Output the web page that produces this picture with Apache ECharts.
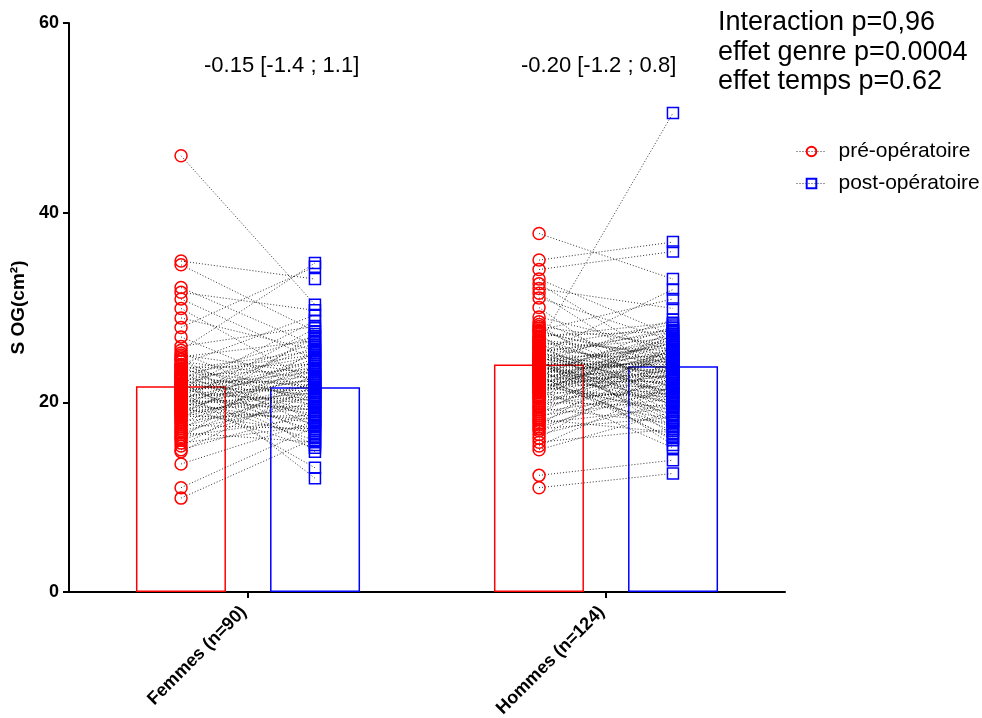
<!DOCTYPE html>
<html>
<head>
<meta charset="utf-8">
<title>S OG pré / post-opératoire</title>
<script src="https://cdn.jsdelivr.net/npm/echarts@6/dist/echarts.min.js"></script>
<style>
  html, body { margin: 0; padding: 0; background: #fff; }
  #chart { width: 982px; height: 718px; }
</style>
</head>
<body>
<div id="chart"></div>
<script>
// Groups on the x axis
const categories = ['Femmes (n=90)', 'Hommes (n=124)'];
const seriesNames = ['pré-opératoire', 'post-opératoire'];

// Group means (bar heights), cm²
const meanPre = [21.7, 24.0];
const meanPost = [21.6, 23.8];

// Paired individual measurements, same order in pre and post arrays
const femmesPre = [
  46.0, 34.9, 34.5, 32.1, 31.6, 30.9, 29.9, 28.9, 27.9, 26.9,
  25.9, 25.5, 25.2, 25.0, 24.8, 24.5, 24.3, 24.0, 23.9, 23.8,
  23.6, 23.4, 23.2, 23.1, 23.0, 22.9, 22.8, 22.7, 22.6, 22.5,
  22.4, 22.3, 22.1, 22.0, 21.9, 21.8, 21.7, 21.6, 21.5, 21.4,
  21.3, 21.2, 21.1, 21.0, 20.9, 20.8, 20.7, 20.6, 20.5, 20.4,
  20.3, 20.2, 20.1, 20.0, 19.9, 19.8, 19.7, 19.6, 19.5, 19.4,
  19.3, 19.2, 19.1, 19.0, 18.9, 18.8, 18.7, 18.5, 18.4, 18.2,
  18.0, 17.8, 17.6, 17.4, 17.2, 17.0, 16.8, 16.6, 16.4, 16.2,
  16.0, 15.7, 15.4, 15.0, 14.8, 13.5, 11.0, 9.9, 24.6, 23.5
];
const femmesPost = [
  30.3, 33.0, 27.5, 26.0, 29.7, 24.5, 22.0, 25.5, 34.3, 21.0,
  28.0, 34.7, 19.5, 23.0, 26.5, 18.0, 22.5, 29.2, 20.0, 17.5,
  24.0, 21.5, 16.5, 25.0, 20.5, 12.0, 23.5, 19.0, 27.0, 21.8,
  18.5, 24.8, 22.2, 15.5, 20.8, 26.2, 23.2, 17.0, 21.2, 28.6,
  19.8, 22.8, 13.1, 24.2, 20.2, 18.8, 25.8, 21.6, 16.0, 23.8,
  19.2, 22.4, 27.8, 20.6, 17.8, 24.6, 21.0, 15.2, 22.6, 19.6,
  26.8, 18.2, 23.6, 20.4, 16.8, 25.2, 21.4, 18.6, 22.0, 27.2,
  19.4, 23.4, 17.2, 21.2, 24.4, 20.0, 15.8, 22.2, 18.4, 25.6,
  20.8, 17.6, 23.0, 19.0, 21.8, 18.0, 17.4, 16.2, 14.8, 25.4
];
const hommesPre = [
  37.8, 35.0, 34.0, 33.0, 32.5, 32.0, 31.5, 31.0, 30.0, 29.0,
  28.5, 28.2, 28.0, 27.8, 27.6, 27.4, 27.2, 27.0, 26.8, 26.6,
  26.4, 26.2, 26.0, 25.9, 25.8, 25.6, 25.5, 25.4, 25.2, 25.1,
  25.0, 24.9, 24.8, 24.7, 24.6, 24.5, 24.4, 24.3, 24.2, 24.1,
  24.0, 23.9, 23.8, 23.7, 23.6, 23.5, 23.4, 23.3, 23.2, 23.1,
  23.0, 22.9, 22.8, 22.7, 22.6, 22.5, 22.4, 22.3, 22.2, 22.1,
  22.0, 21.9, 21.8, 21.7, 21.6, 21.5, 21.4, 21.3, 21.2, 21.1,
  21.0, 20.8, 20.6, 20.4, 20.2, 20.0, 19.8, 19.6, 19.4, 19.2,
  19.0, 18.8, 18.6, 18.4, 18.2, 18.0, 17.8, 17.6, 17.4, 17.2,
  17.0, 16.6, 16.2, 15.8, 15.4, 15.0, 26.5, 26.3, 25.7, 25.3,
  24.8, 24.4, 24.0, 23.6, 23.2, 22.8, 22.4, 22.0, 21.6, 27.5,
  26.9, 25.0, 24.6, 23.9, 23.5, 23.0, 22.6, 22.2, 21.8, 21.0,
  20.5, 19.5, 12.3, 11.0
];
const hommesPost = [
  33.0, 36.9, 35.9, 27.0, 24.0, 29.9, 22.5, 26.5, 20.0, 25.5,
  23.0, 19.5, 26.0, 21.5, 30.9, 24.5, 18.0, 27.5, 22.0, 25.0,
  16.5, 50.5, 23.5, 28.2, 20.5, 24.2, 19.0, 26.8, 22.8, 31.9,
  17.5, 24.8, 21.0, 27.8, 23.2, 15.5, 25.8, 22.4, 28.7, 20.2,
  24.0, 18.6, 26.2, 21.8, 23.8, 16.0, 25.2, 22.6, 27.2, 19.8,
  24.6, 21.2, 28.0, 17.0, 23.6, 25.6, 20.8, 26.6, 22.2, 18.8,
  24.4, 21.6, 27.0, 19.2, 23.4, 25.4, 15.2, 22.8, 26.4, 20.6,
  24.8, 18.2, 23.0, 27.6, 21.4, 19.6, 25.0, 22.0, 17.8, 24.2,
  21.0, 26.0, 20.4, 23.8, 16.8, 22.6, 19.4, 25.8, 21.6, 18.4,
  23.2, 20.0, 24.6, 17.2, 21.8, 19.0, 22.4, 25.4, 20.8, 27.4,
  23.6, 18.0, 26.6, 21.2, 24.4, 16.2, 22.8, 25.2, 20.2, 24.0,
  28.4, 21.6, 23.0, 19.8, 26.2, 22.0, 24.8, 17.4, 23.4, 27.0,
  21.0, 25.6, 13.9, 12.5
];

// Text annotations
const diffLabels = ['-0.15 [-1.4 ; 1.1]', '-0.20 [-1.2 ; 0.8]'];
const statsLines = ['Interaction p=0,96', 'effet genre p=0.0004', 'effet temps p=0.62'];

const FONT = '"Liberation Sans", Arial, Helvetica, sans-serif';
const RED = '#ff0000';
const BLUE = '#0000ff';

// Horizontal placement on the hidden value axis [0, 2]: group i is centred at i + 0.5,
// pre-op column to its left, post-op column to its right (same centres as the bars).
const COL_OFFSET = 0.187;
const groups = [
  { pre: femmesPre, post: femmesPost },
  { pre: hommesPre, post: hommesPost }
];

const prePoints = [];
const postPoints = [];
const pairSegments = [];
groups.forEach((g, gi) => {
  const xPre = gi + 0.5 - COL_OFFSET;
  const xPost = gi + 0.5 + COL_OFFSET;
  g.pre.forEach((v, k) => {
    const w = g.post[k];
    prePoints.push([xPre, v]);
    postPoints.push([xPost, w]);
    pairSegments.push([xPre, v, xPost, w]);
  });
});

const chart = echarts.init(document.getElementById('chart'), null, { renderer: 'canvas' });

const option = {
  animation: false,
  backgroundColor: '#ffffff',
  textStyle: { fontFamily: FONT },
  // fixed plot area; rotated category labels may run to the bottom edge
  grid: { left: 69, right: 197, top: 23, bottom: 126, containLabel: false, outerBoundsMode: 'none' },
  xAxis: [
    {
      type: 'category',
      data: categories,
      boundaryGap: true,
      axisLine: { show: true, lineStyle: { color: '#000', width: 2 } },
      axisTick: { show: true, alignWithLabel: true, length: 6, lineStyle: { color: '#000', width: 2 } },
      axisLabel: {
        rotate: 45, margin: 13, color: '#000',
        fontFamily: FONT, fontWeight: 'bold', fontSize: 18,
        padding: [0, 6, 0, 0]
      },
      splitLine: { show: false }
    },
    {
      type: 'value', min: 0, max: 2, show: false,
      splitLine: { show: false }
    }
  ],
  yAxis: {
    type: 'value', min: 0, max: 60, interval: 20,
    name: 'S OG(cm²)',
    nameLocation: 'middle', nameRotate: 90, nameGap: 41,
    nameTextStyle: { color: '#000', fontFamily: FONT, fontWeight: 'bold', fontSize: 19 },
    axisLine: { show: true, lineStyle: { color: '#000', width: 2 } },
    axisTick: { show: true, length: 6, lineStyle: { color: '#000', width: 2 } },
    axisLabel: { color: '#000', fontFamily: FONT, fontWeight: 'bold', fontSize: 18, margin: 10 },
    splitLine: { show: false }
  },
  legend: {
    orient: 'vertical',
    left: 791, top: 136,
    itemWidth: 30, itemHeight: 12, itemGap: 11,
    data: seriesNames,
    textStyle: { color: '#000', fontFamily: FONT, fontSize: 21, padding: [0, 0, 0, 7] },
    lineStyle: { color: '#333', width: 1, type: [1, 2], opacity: 1 }
  },
  series: [
    {
      type: 'bar', name: 'moyenne pré',
      xAxisIndex: 0,
      data: meanPre,
      barWidth: 90, barGap: '49%',
      itemStyle: { color: 'rgba(0,0,0,0)', borderColor: RED, borderWidth: 1.5 },
      silent: true, z: 1
    },
    {
      type: 'bar', name: 'moyenne post',
      xAxisIndex: 0,
      data: meanPost,
      barWidth: 90,
      itemStyle: { color: 'rgba(0,0,0,0)', borderColor: BLUE, borderWidth: 1.5 },
      silent: true, z: 1
    },
    {
      // dotted segment joining each patient's pre and post value
      type: 'custom', name: 'paires',
      xAxisIndex: 1,
      data: pairSegments,
      encode: { x: [0, 2], y: [1, 3] },
      silent: true, z: 2,
      renderItem: function (params, api) {
        const a = api.coord([api.value(0), api.value(1)]);
        const b = api.coord([api.value(2), api.value(3)]);
        return {
          type: 'line',
          shape: { x1: a[0], y1: a[1], x2: b[0], y2: b[1] },
          style: { stroke: '#111', lineWidth: 1, lineDash: [1, 2], opacity: 0.85 }
        };
      }
    },
    {
      type: 'line', name: seriesNames[0],
      xAxisIndex: 1,
      data: prePoints,
      symbol: 'circle', symbolSize: 12,
      showSymbol: true, showAllSymbol: true,
      lineStyle: { width: 0, opacity: 0 },
      itemStyle: { color: 'rgba(255,255,255,0)', borderColor: RED, borderWidth: 1.5 },
      emphasis: { disabled: true },
      silent: true, z: 3
    },
    {
      type: 'line', name: seriesNames[1],
      xAxisIndex: 1,
      data: postPoints,
      symbol: 'rect', symbolSize: 11,
      showSymbol: true, showAllSymbol: true,
      lineStyle: { width: 0, opacity: 0 },
      itemStyle: { color: 'rgba(255,255,255,0)', borderColor: BLUE, borderWidth: 1.5 },
      emphasis: { disabled: true },
      silent: true, z: 3
    }
  ],
  graphic: [
    {
      type: 'text', left: 204, top: 55,
      style: { text: diffLabels[0], fill: '#000', font: '22px ' + FONT }
    },
    {
      type: 'text', left: 521, top: 55,
      style: { text: diffLabels[1], fill: '#000', font: '22px ' + FONT }
    },
    {
      type: 'text', left: 718, top: 8,
      style: { text: statsLines.join('\n'), fill: '#000', font: '27px ' + FONT, lineHeight: 29.5 }
    }
  ]
};

chart.setOption(option);
</script>
</body>
</html>
